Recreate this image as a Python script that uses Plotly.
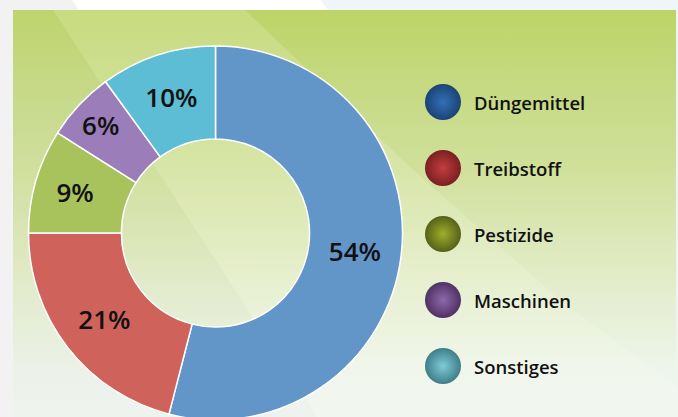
import plotly.graph_objects as go

# ---- data ----
categories = ["Düngemittel", "Treibstoff", "Pestizide", "Maschinen", "Sonstiges"]
shares = [54, 21, 9, 6, 10]
slice_colors = ["#6295c8", "#cf635c", "#a9c35c", "#9b7db9", "#5cbdd4"]
legend_colors = ["#3270b6", "#c23d3e", "#9fae2a", "#8f68aa", "#80cbd7"]
legend_edge = ["#1b4376", "#7a2022", "#56611a", "#4f3264", "#3f7e88"]

W, H = 678, 421
fig = go.Figure()

def poly(xs, ys, **kw):
    fig.add_trace(go.Scatter(x=xs, y=ys, fill="toself", mode="none",
                             hoverinfo="skip", showlegend=False, **kw))

# outer background strips
poly([72, 678, 678, 80], [0, 0, 12, 12], fillcolor="#ffffff")
poly([320, 678, 678, 330], [0, 0, 12, 12], fillcolor="#eef6fa")
# main panel with vertical gradient
poly([13, 676, 676, 13, 13], [10, 10, 421, 421, 10],
     fillgradient=dict(type="vertical",
                       colorscale=[[0, "#f0f6f2"], [0.12, "#eef5ec"], [0.35, "#e2ecc8"],
                                   [0.62, "#d0e09a"], [0.8, "#c6da84"], [1, "#bdd467"]]))
# lighter diagonal band
poly([53, 245, 410, 560, 678, 678, 320], [10, 10, 167, 300, 388, 421, 421],
     fillcolor="rgba(255,255,236,0.17)")
# slightly greyer lower-left area
poly([13, 53, 320, 13], [10, 10, 421, 421], fillcolor="rgba(210,212,200,0.07)")

# legend markers and labels
legend_y = [102, 168, 234, 300, 366]
fig.add_trace(go.Scatter(
    x=[443] * len(categories), y=legend_y, mode="markers",
    marker=dict(size=36, color=legend_edge, line=dict(width=0),
                gradient=dict(type="radial", color=legend_colors)),
    hoverinfo="skip", showlegend=False))
for cat, yy in zip(categories, legend_y):
    fig.add_annotation(x=472, y=yy, xref="x", yref="y", text=cat, showarrow=False,
                       xanchor="left", yanchor="middle",
                       font=dict(family="Open Sans", size=18.5, color="#111111", weight=600))

# donut
cx, cy, r = 215.5, 233, 187
fig.add_trace(go.Pie(
    labels=categories, values=shares, sort=False, direction="clockwise", rotation=0,
    hole=0.503, marker=dict(colors=slice_colors, line=dict(color="#ffffff", width=1.5)),
    texttemplate="%{value}%", textposition="inside", insidetextorientation="horizontal",
    textfont=dict(family="Open Sans", size=26, color="#111111", weight=600),
    domain=dict(x=[(cx - r) / W, (cx + r) / W], y=[1 - (cy + r) / H, 1 - (cy - r) / H]),
    hoverinfo="skip", showlegend=False))

fig.update_layout(
    width=W, height=H, margin=dict(l=0, r=0, t=0, b=0),
    paper_bgcolor="#f2f2f2", plot_bgcolor="rgba(0,0,0,0)",
    xaxis=dict(range=[0, W], visible=False, fixedrange=True, domain=[0, 1]),
    yaxis=dict(range=[H, 0], visible=False, fixedrange=True, domain=[0, 1]),
    showlegend=False,
)
fig.write_html(
    "out.html",
    config={"displayModeBar": False, "staticPlot": True},
    post_script="document.body.style.margin='0px';document.body.style.overflow='hidden';"
                "document.documentElement.style.overflow='hidden';",
)
